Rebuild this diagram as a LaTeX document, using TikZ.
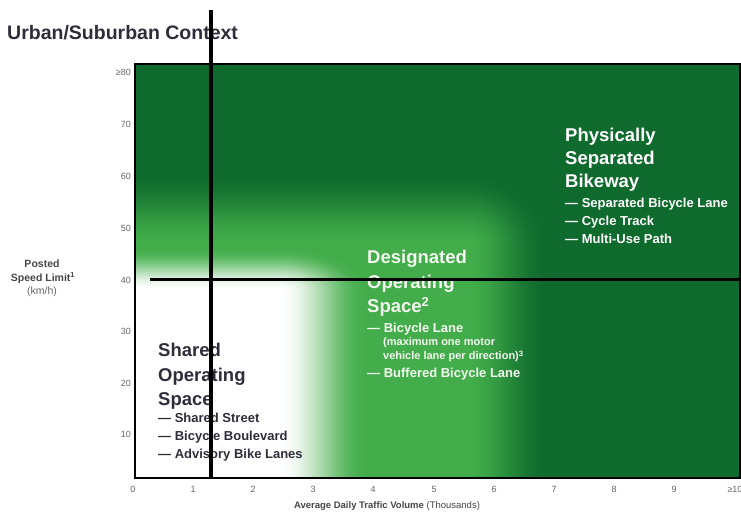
\documentclass[tikz,border=0pt]{standalone}
\usepackage{fontspec}
\setmainfont{Liberation Sans}
\definecolor{dkgreen}{HTML}{0F6B2D}
\definecolor{mdgreen}{HTML}{42AD4A}
\definecolor{txtdark}{HTML}{2E2E3A}
\definecolor{tickgray}{HTML}{666666}
\definecolor{lightwhite}{HTML}{F4F8F0}
\newcommand\smoothH[3]{\pgfdeclarehorizontalshading{#1}{100bp}{color(0bp)=(#2); color(25bp)=(#2); color(31.25bp)=(#3!4.3!#2); color(37.5bp)=(#3!15.6!#2); color(43.75bp)=(#3!31.6!#2); color(50bp)=(#3!50!#2); color(56.25bp)=(#3!68.4!#2); color(62.5bp)=(#3!84.4!#2); color(68.75bp)=(#3!95.7!#2); color(75bp)=(#3); color(100bp)=(#3)}}
\newcommand\smoothV[3]{\pgfdeclareverticalshading{#1}{100bp}{color(0bp)=(#2); color(25bp)=(#2); color(31.25bp)=(#3!4.3!#2); color(37.5bp)=(#3!15.6!#2); color(43.75bp)=(#3!31.6!#2); color(50bp)=(#3!50!#2); color(56.25bp)=(#3!68.4!#2); color(62.5bp)=(#3!84.4!#2); color(68.75bp)=(#3!95.7!#2); color(75bp)=(#3); color(100bp)=(#3)}}
\newcommand\smoothR[3]{\pgfdeclareradialshading{#1}{\pgfpoint{0bp}{0bp}}{color(0bp)=(#2); color(3.125bp)=(#3!4.3!#2); color(6.25bp)=(#3!15.6!#2); color(9.375bp)=(#3!31.6!#2); color(12.5bp)=(#3!50!#2); color(15.625bp)=(#3!68.4!#2); color(18.75bp)=(#3!84.4!#2); color(21.875bp)=(#3!95.7!#2); color(25bp)=(#3); color(50bp)=(#3)}}
\smoothV{greenup}{mdgreen}{dkgreen}
\smoothH{greenright}{mdgreen}{dkgreen}
\smoothR{greencorner}{mdgreen}{dkgreen}
\smoothV{whiteup}{white}{mdgreen}
\smoothH{whiteright}{white}{mdgreen}
\smoothR{whitecorner}{white}{mdgreen}
\begin{document}
\begin{tikzpicture}[x=1pt,y=1pt,
  headtxt/.style={font=\fontsize{18.5}{20}\selectfont\bfseries, anchor=base west, inner sep=0pt},
  itemtxt/.style={font=\fontsize{13}{14}\selectfont\bfseries, anchor=base west, inner sep=0pt},
  subtxt/.style={font=\fontsize{11}{12}\selectfont\bfseries, anchor=base west, inner sep=0pt},
  ytick/.style={font=\fontsize{9}{10}\selectfont, text=tickgray, anchor=east, inner sep=0pt},
  xtick/.style={font=\fontsize{9}{10}\selectfont, text=tickgray, anchor=center, inner sep=0pt},
  bar/.style={black, line width=#1}]
\useasboundingbox (0,0) rectangle (741,513);
\fill[white] (0,0) rectangle (741,513);
% background of the chart
\fill[dkgreen] (135,35) rectangle (740,449);
% mid green area
\fill[mdgreen] (135,35) rectangle (467,268);
\shade[shading=greenup] (135,268) rectangle (467,340);
\shade[shading=greenright] (467,35) rectangle (547,268);
\begin{scope}
\clip (467,268) rectangle (547,340);
\shade[shading=greencorner] (387,196) rectangle (547,340);
\end{scope}
% white area
\fill[white] (135,35) rectangle (280,223);
\shade[shading=whiteup] (135,223) rectangle (280,265);
\shade[shading=whiteright] (280,35) rectangle (366,223);
\begin{scope}
\clip (280,223) rectangle (366,265);
\shade[shading=whitecorner] (194,181) rectangle (366,265);
\end{scope}
% frame
\draw[black, line width=2pt] (135,35) rectangle (740,449);

% title
\node[anchor=base west, inner sep=0pt, text=txtdark, font=\fontsize{19.5}{21}\selectfont\bfseries] (title) at (7,473) {Urban/Suburban Context};

% y ticks
\node[ytick] (y80) at (131,441) {≥80};
\node[ytick] (y70) at (131,389) {70};
\node[ytick] (y60) at (131,337) {60};
\node[ytick] (y50) at (131,285) {50};
\node[ytick] (y40) at (131,233) {40};
\node[ytick] (y30) at (131,182) {30};
\node[ytick] (y20) at (131,130) {20};
\node[ytick] (y10) at (131,79) {10};

% y label
\node[font=\fontsize{10.5}{12}\selectfont\bfseries, text=tickgray!70!black, inner sep=0pt] (ylab1) at (42,249) {Posted};
\node[font=\fontsize{10.5}{12}\selectfont\bfseries, text=tickgray!70!black, inner sep=0pt] (ylab2) at (43,235) {Speed Limit\textsuperscript{1}};
\node[font=\fontsize{10.5}{12}\selectfont, text=tickgray, inner sep=0pt] (ylab3) at (42,221) {(km/h)};

% x ticks
\node[xtick] (x0) at (133,24) {0};
\node[xtick] (x1) at (193,24) {1};
\node[xtick] (x2) at (253,24) {2};
\node[xtick] (x3) at (313,24) {3};
\node[xtick] (x4) at (373,24) {4};
\node[xtick] (x5) at (434,24) {5};
\node[xtick] (x6) at (494,24) {6};
\node[xtick] (x7) at (554,24) {7};
\node[xtick] (x8) at (614,24) {8};
\node[xtick] (x9) at (674,24) {9};
\node[xtick] (x10) at (735,24) {≥10};

% x label
\node[font=\fontsize{9.5}{11}\selectfont, text=tickgray!70!black, inner sep=0pt] (xlab) at (387,7) {\textbf{Average Daily Traffic Volume} (Thousands)};

% Physically separated bikeway
\node[headtxt, text=white] (ps1) at (565,371) {Physically};
\node[headtxt, text=white] (ps2) at (565,348) {Separated};
\node[headtxt, text=white] (ps3) at (565,325) {Bikeway};
\node[itemtxt, text=white] (ps4) at (565,305) {— Separated Bicycle Lane};
\node[itemtxt, text=white] (ps5) at (565,287) {— Cycle Track};
\node[itemtxt, text=white] (ps6) at (565,269) {— Multi-Use Path};

% Designated operating space
\node[headtxt, text=lightwhite] (ds1) at (367,249) {Designated};
\node[headtxt, text=lightwhite] (ds2) at (367,224.5) {Operating};
\node[headtxt, text=lightwhite] (ds3) at (367,200) {Space\textsuperscript{2}};
\node[itemtxt, text=lightwhite] (ds4) at (367,180) {— Bicycle Lane};
\node[subtxt, text=lightwhite] (ds5) at (383,167) {(maximum one motor};
\node[subtxt, text=lightwhite] (ds6) at (383,153) {vehicle lane per direction)\textsuperscript{3}};
\node[itemtxt, text=lightwhite] (ds7) at (367,135) {— Buffered Bicycle Lane};

% Shared operating space
\node[headtxt, text=txtdark] (ss1) at (158,156) {Shared};
\node[headtxt, text=txtdark] (ss2) at (158,131.5) {Operating};
\node[headtxt, text=txtdark] (ss3) at (158,107) {Space};
\node[itemtxt, text=txtdark] (ss4) at (158,90) {— Shared Street};
\node[itemtxt, text=txtdark] (ss5) at (158,72) {— Bicycle Boulevard};
\node[itemtxt, text=txtdark] (ss6) at (158,54) {— Advisory Bike Lanes};

% black marker lines
\coordinate (vtop) at (211,503);
\coordinate (vbot) at (211,35);
\coordinate (hleft) at (150,233);
\coordinate (hright) at (741,233);
\draw[bar=3pt] (hleft) -- (hright);
\draw[bar=4pt] (vtop) -- (vbot);
\end{tikzpicture}
\end{document}
